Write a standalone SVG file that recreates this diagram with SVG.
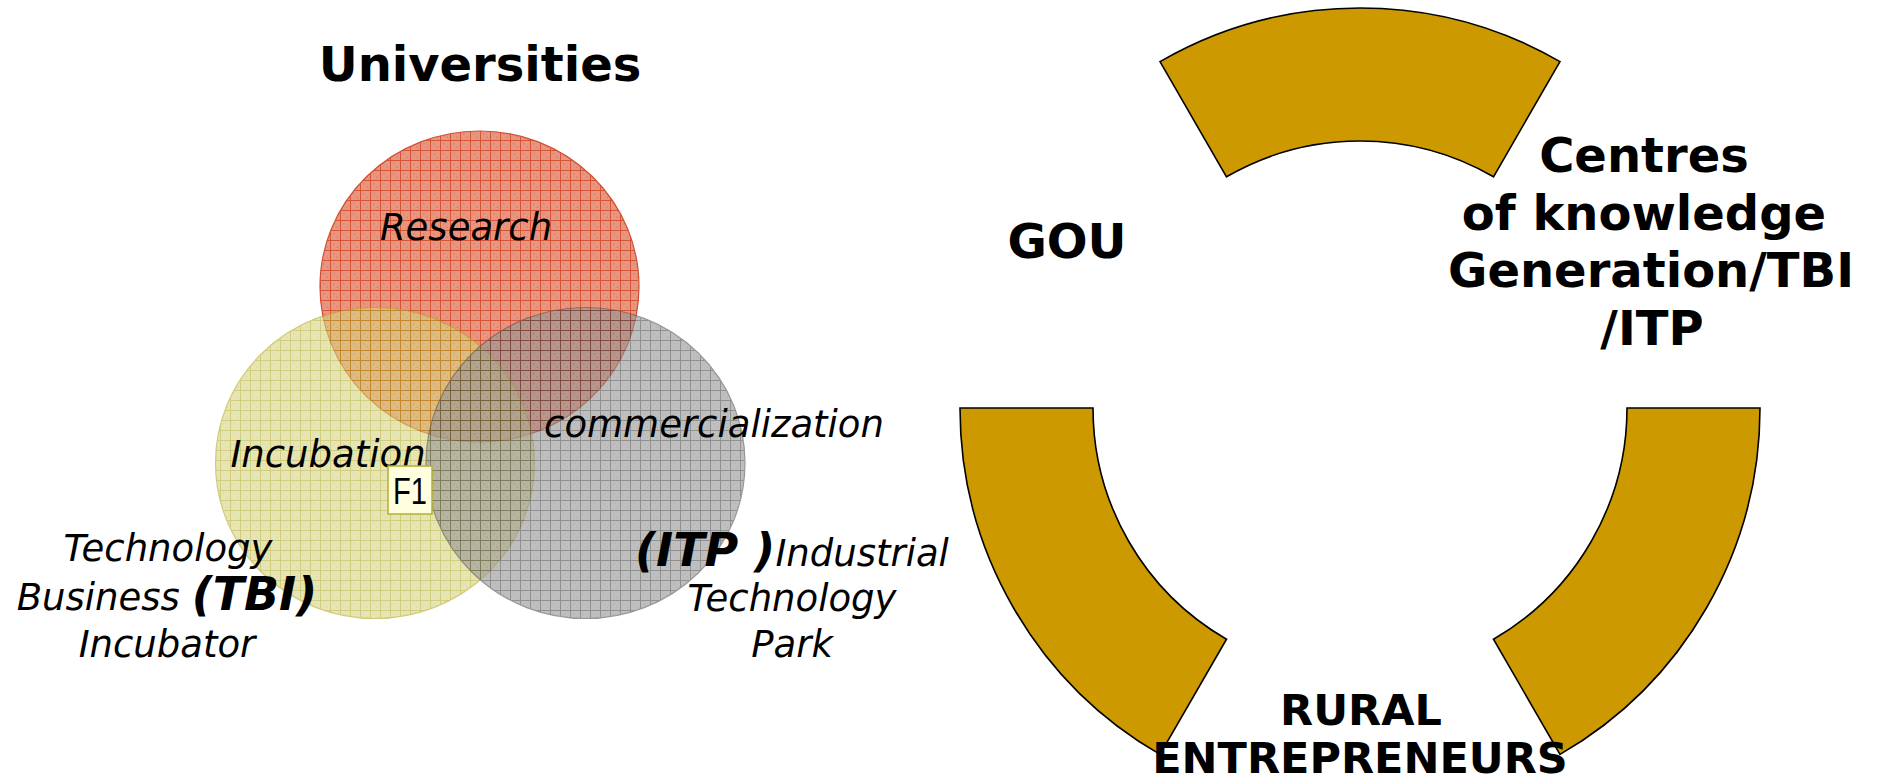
<svg xmlns="http://www.w3.org/2000/svg" width="1888" height="779" viewBox="0 0 1888 779">
<defs>
<pattern id="pr" width="10" height="10" patternUnits="userSpaceOnUse">
<rect width="10" height="10" fill="#e4846a"/>
<rect x="3" y="3" width="1.5" height="1.5" fill="#d4704f"/><rect x="6.5" y="6.5" width="1.5" height="1.5" fill="#d4704f"/>
<path d="M0 0.5H10M0.5 0V10" stroke="#d03714" stroke-width="1"/>
</pattern>
<pattern id="py" width="10" height="10" patternUnits="userSpaceOnUse">
<rect width="10" height="10" fill="#d9d584"/>
<rect x="3" y="3" width="1.5" height="1.5" fill="#cbc66a"/><rect x="6.5" y="6.5" width="1.5" height="1.5" fill="#cbc66a"/>
<path d="M0 0.5H10M0.5 0V10" stroke="#b4ac2a" stroke-width="1"/>
</pattern>
<pattern id="pg" width="10" height="10" patternUnits="userSpaceOnUse">
<rect width="10" height="10" fill="#969696"/>
<rect x="3" y="3" width="1.5" height="1.5" fill="#848484"/><rect x="6.5" y="6.5" width="1.5" height="1.5" fill="#848484"/>
<path d="M0 0.5H10M0.5 0V10" stroke="#484848" stroke-width="1"/>
</pattern>
</defs>
<style>
.t{font-family:"DejaVu Sans","Noto Sans",sans-serif;fill:#000}
.b{font-weight:bold}
.i{font-style:italic;font-size:37px}
.bi{font-style:italic;font-weight:bold;font-size:46px}
.seg{fill:#cc9900;stroke:#000;stroke-width:1.6}
</style>
<rect width="1888" height="779" fill="#fff"/>

<g id="venn">
<g id="research" opacity="0.85"><ellipse cx="479.5" cy="286.5" rx="159.5" ry="155.5" fill="url(#pr)" stroke="#c83010" stroke-width="1.2"/></g>
<g id="incubation" opacity="0.6"><ellipse cx="375" cy="463" rx="159.5" ry="155.5" fill="url(#py)" stroke="#b0aa20" stroke-width="1.2"/></g>
<g id="commercialization" opacity="0.6"><ellipse cx="585.5" cy="463" rx="159.5" ry="155.5" fill="url(#pg)" stroke="#555" stroke-width="1.2"/></g>
</g>

<g id="labels-left">
<text class="t b" x="480" y="81" text-anchor="middle" font-size="48">Universities</text>
<text class="t i" x="466" y="240" text-anchor="middle">Research</text>
<text class="t i" x="328" y="467" text-anchor="middle">Incubation</text>
<text class="t i" x="714" y="437" text-anchor="middle">commercialization</text>
<text class="t i" x="168" y="561" text-anchor="middle">Technology</text>
<text class="t i" x="167" y="610" text-anchor="middle">Business <tspan class="bi">(TBI)</tspan></text>
<text class="t i" x="167" y="657" text-anchor="middle">Incubator</text>
<text class="t i" x="792" y="566" text-anchor="middle"><tspan class="bi">(ITP )</tspan>Industrial</text>
<text class="t i" x="792" y="611" text-anchor="middle">Technology</text>
<text class="t i" x="792" y="657" text-anchor="middle">Park</text>
</g>

<g id="f1">
<rect x="388" y="466" width="44" height="48" fill="#ffffe0" stroke="#b4b030" stroke-width="1.5"/>
<text x="410" y="504" text-anchor="middle" font-family="Liberation Sans, Arial, sans-serif" font-size="36" textLength="34" lengthAdjust="spacingAndGlyphs">F1</text>
</g>

<g id="cycle">
<path class="seg" d="M1160 61.6 A400 400 0 0 1 1560 61.6 L1493.5 176.8 A267 267 0 0 0 1226.5 176.8 Z"/>
<path class="seg" d="M960 408 L1093 408 A267 267 0 0 0 1226.5 639.2 L1160 754.4 A400 400 0 0 1 960 408 Z"/>
<path class="seg" d="M1627 408 L1760 408 A400 400 0 0 1 1560 754.4 L1493.5 639.2 A267 267 0 0 0 1627 408 Z"/>
</g>

<g id="gou"><text class="t b" x="1067" y="258" text-anchor="middle" font-size="48">GOU</text></g>
<g id="centres">
<text class="t b" x="1644" y="172" text-anchor="middle" font-size="48">Centres</text>
<text class="t b" x="1644" y="230" text-anchor="middle" font-size="48">of knowledge</text>
<text class="t b" x="1651" y="287" text-anchor="middle" font-size="48">Generation/TBI</text>
<text class="t b" x="1652" y="345" text-anchor="middle" font-size="48">/ITP</text>
</g>
<g id="rural">
<text class="t b" x="1361" y="725" text-anchor="middle" font-size="43">RURAL</text>
<text class="t b" x="1360" y="773" text-anchor="middle" font-size="43">ENTREPRENEURS</text>
</g>
</svg>
